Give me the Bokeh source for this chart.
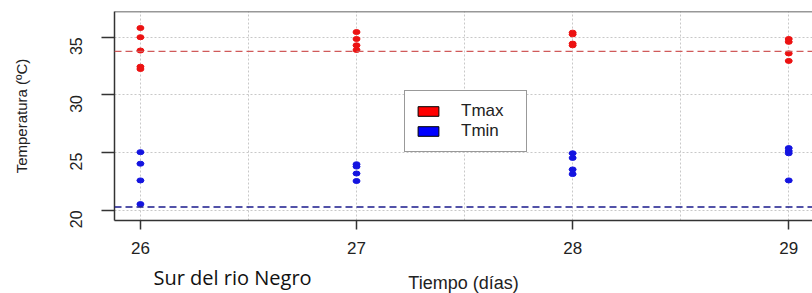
import math
from bokeh.plotting import figure
from bokeh.models import Range1d, FixedTicker, Span, Legend, LegendItem
from bokeh.core.properties import value
from bokeh.embed import file_html
from bokeh.resources import INLINE

# ---------------- data ----------------
days_tmax = [26, 26, 26, 26, 26, 27, 27, 27, 27, 28, 28, 28, 28, 29, 29, 29, 29]
tmax = [35.8, 35.0, 33.85, 32.45, 32.25,
        35.45, 34.85, 34.3, 33.9,
        35.4, 35.25, 34.45, 34.3,
        34.85, 34.6, 33.6, 32.95]
days_tmin = [26, 26, 26, 26, 27, 27, 27, 27, 28, 28, 28, 28, 29, 29, 29, 29]
tmin = [25.05, 24.05, 22.6, 20.55,
        24.0, 23.8, 23.2, 22.55,
        24.95, 24.55, 23.55, 23.15,
        25.4, 25.15, 24.95, 22.6]
tmax_ref = 33.77
tmin_ref = 20.3
x_ticks = [26, 27, 28, 29]
x_grid = [25.5, 26, 26.5, 27, 27.5, 28, 28.5, 29]
y_ticks = [20, 25, 30, 35]
series_names = ["Tmax", "Tmin"]
x_label = "Tiempo (días)"
y_label = "Temperatura (ºC)"
subtitle = "Sur del rio Negro"

FONT = "Liberation Sans"

xr = Range1d(25.88, 29.11)
yr = Range1d(19.13, 37.23)
p = figure(width=812, height=293, output_backend="svg", toolbar_location=None,
           x_range=xr, y_range=yr,
           min_border_left=114, min_border_top=11, min_border_right=0,
           min_border_bottom=73)
p.outline_line_color = None
p.background_fill_color = "white"
p.border_fill_color = "white"

# grids
p.xgrid.ticker = FixedTicker(ticks=x_grid)
p.ygrid.ticker = FixedTicker(ticks=y_ticks)
for g in (p.xgrid, p.ygrid):
    g.grid_line_color = "#c8c8c8"
    g.grid_line_dash = "2 2"
    g.grid_line_width = 1

# axes
p.xaxis.ticker = FixedTicker(ticks=x_ticks)
p.yaxis.ticker = FixedTicker(ticks=y_ticks)
for ax in (p.xaxis, p.yaxis):
    ax.axis_line_color = "#333333"
    ax.axis_line_width = 1.5
    ax.major_tick_line_color = "#333333"
    ax.major_tick_line_width = 1.5
    ax.major_tick_in = 0
    ax.minor_tick_line_color = None
    ax.major_label_text_font = FONT
    ax.major_label_text_color = "#222222"
    ax.axis_label_text_font = FONT
    ax.axis_label_text_font_style = "normal"
    ax.axis_label_text_color = "#222222"

p.xaxis.major_tick_out = 9
p.xaxis.major_label_text_font_size = "17px"
p.xaxis.major_label_standoff = 12

p.yaxis.major_tick_out = 13
p.yaxis.major_label_orientation = math.pi / 2
p.yaxis.major_label_text_font_size = "16px"
p.yaxis.major_label_standoff = 25
p.yaxis.axis_label = y_label
p.yaxis.axis_label_text_font_size = "15px"
p.yaxis.axis_label_standoff = 32

# top border of the box
p.add_layout(Span(location=yr.end, dimension="width",
                  line_color="#333333", line_width=1.5))

# reference lines
p.add_layout(Span(location=tmax_ref, dimension="width", line_color="#d05a5a",
                  line_dash="7 4", line_width=1.3))
p.add_layout(Span(location=tmin_ref, dimension="width", line_color="#1a1a8c",
                  line_dash="7 4", line_width=1.3))

# points
p.ellipse(x=days_tmax, y=tmax, width=7, height=5, width_units="screen",
          height_units="screen", fill_color="#ec1212", line_color="#ec1212")
p.ellipse(x=days_tmin, y=tmin, width=7, height=5, width_units="screen",
          height_units="screen", fill_color="#1414e0", line_color="#1414e0")

# legend swatches (hidden renderers, shown only in the legend)
r_max = p.rect(x=days_tmax, y=tmax, width=0.01, height=0.01,
               fill_color="#ff0000", line_color="black", visible=False)
r_min = p.rect(x=days_tmin, y=tmin, width=0.01, height=0.01,
               fill_color="#0000ff", line_color="black", visible=False)
legend = Legend(items=[LegendItem(label=series_names[0], renderers=[r_max]),
                       LegendItem(label=series_names[1], renderers=[r_min])],
                location=(290, 68))
legend.border_line_color = "#333333"
legend.border_line_width = 1.5
legend.background_fill_alpha = 1
legend.inactive_fill_alpha = 0
legend.padding = 10
legend.spacing = 0
legend.glyph_width = 26
legend.glyph_height = 12
legend.label_standoff = 20
legend.label_width = 55
legend.label_height = 16
legend.label_text_font = FONT
legend.label_text_font_size = "17px"
legend.label_text_color = "#222222"
legend.margin = 0
p.add_layout(legend, "center")

# texts under the plot: anchored at the frame's lower corner, offset in pixels,
# drawn on the overlay level so they are not clipped to the frame
p.text(x=[(xr.start + xr.end) / 2], y=[yr.start], text=[x_label],
       x_offset=0, y_offset=62, text_align="center", text_baseline="alphabetic",
       text_font=value(FONT), text_font_size="18px", text_color="#222222",
       level="overlay")
p.text(x=[xr.start], y=[yr.start], text=[subtitle],
       x_offset=39, y_offset=57, text_align="left", text_baseline="alphabetic",
       text_font=value("Open Sans"), text_font_size="20px", text_color="#111111",
       level="overlay")

open("out.html", "w").write(file_html(p, INLINE))
